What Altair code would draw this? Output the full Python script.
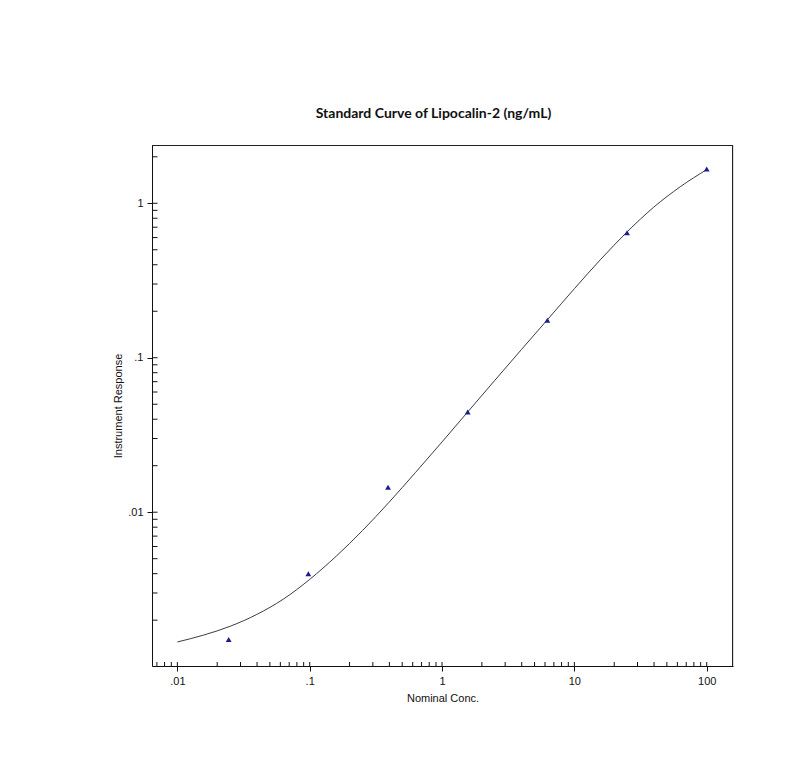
import altair as alt
import pandas as pd

# Standards (nominal concentration, ng/mL) and measured response
std_conc = [0.0244140625, 0.09765625, 0.390625, 1.5625, 6.25, 25, 100]
std_resp = [0.00150, 0.00399, 0.01452, 0.0446, 0.175, 0.645, 1.667]

# Fitted curve
curve_conc = [0.01, 0.01585, 0.02512, 0.03981, 0.0631, 0.1, 0.1585, 0.2512,
              0.3981, 0.631, 1, 1.585, 2.512, 3.981, 6.31, 10, 15.85, 25.12,
              39.81, 63.1, 100]
curve_resp = [0.001445, 0.001603, 0.001828, 0.002178, 0.002735, 0.003673,
              0.005188, 0.007621, 0.01161, 0.01811, 0.02851, 0.04519, 0.07161,
              0.1130, 0.1778, 0.2799, 0.4345, 0.6546, 0.9441, 1.279, 1.652]

x_major = [0.01, 0.1, 1, 10, 100]
x_major_labels = [".01", ".1", "1", "10", "100"]
y_major = [0.01, 0.1, 1]
y_major_labels = [".01", ".1", "1"]
x_ticks_all = [0.007, 0.008, 0.009,
               0.01, 0.02, 0.03, 0.04, 0.05, 0.06, 0.07, 0.08, 0.09,
               0.1, 0.2, 0.3, 0.4, 0.5, 0.6, 0.7, 0.8, 0.9,
               1, 2, 3, 4, 5, 6, 7, 8, 9,
               10, 20, 30, 40, 50, 60, 70, 80, 90,
               100]
y_ticks_all = [0.002, 0.003, 0.004, 0.005, 0.006, 0.007, 0.008, 0.009,
               0.01, 0.02, 0.03, 0.04, 0.05, 0.06, 0.07, 0.08, 0.09,
               0.1, 0.2, 0.3, 0.4, 0.5, 0.6, 0.7, 0.8, 0.9,
               1, 2]

x_domain = [0.00643, 158]
y_domain = [0.00101, 2.384]

W, H = 581, 521
FONT = "Liberation Sans"
INK = "#111"

def label_expr(values, labels):
    parts = " : ".join(f"datum.value == {v} ? '{l}'" for v, l in zip(values, labels))
    return parts + " : ''"

xscale = alt.Scale(type="log", domain=x_domain, nice=False)
yscale = alt.Scale(type="log", domain=y_domain, nice=False)

std_df = pd.DataFrame({"conc": std_conc, "resp": std_resp})
curve_df = pd.DataFrame({"conc": curve_conc, "resp": curve_resp})
xt_df = pd.DataFrame({"t": x_ticks_all})
yt_df = pd.DataFrame({"t": y_ticks_all})
frame_df = pd.DataFrame({"k": [0]})

x_axis = alt.Axis(values=x_major, labelExpr=label_expr(x_major, x_major_labels),
                  tickSize=5, tickColor=INK, labelPadding=4,
                  domain=True, domainColor=INK, grid=False,
                  labelFont=FONT, labelFontSize=11, labelColor=INK,
                  title="Nominal Conc.", titleFont=FONT, titleFontSize=11,
                  titleFontWeight="normal", titleColor=INK, titlePadding=6)
y_axis = alt.Axis(values=y_major, labelExpr=label_expr(y_major, y_major_labels),
                  tickSize=5, tickColor=INK, labelPadding=4,
                  domain=True, domainColor=INK, grid=False,
                  labelFont=FONT, labelFontSize=11, labelColor=INK,
                  title="Instrument Response", titleFont=FONT, titleFontSize=11,
                  titleFontWeight="normal", titleColor=INK, titlePadding=4)

curve = alt.Chart(curve_df).mark_line(color="#3b3b4f", strokeWidth=1, interpolate="monotone").encode(
    x=alt.X("conc:Q", scale=xscale, axis=x_axis),
    y=alt.Y("resp:Q", scale=yscale, axis=y_axis),
)

points = alt.Chart(std_df).mark_point(shape="triangle-up", filled=True, size=34,
                                      color="#1c1c8c", opacity=1).encode(
    x=alt.X("conc:Q", scale=xscale),
    y=alt.Y("resp:Q", scale=yscale),
)

x_inner = alt.Chart(xt_df).mark_rule(color=INK, strokeWidth=1).encode(
    x=alt.X("t:Q", scale=xscale),
    y=alt.value(H - 4),
    y2=alt.value(H),
)

y_inner = alt.Chart(yt_df).mark_rule(color=INK, strokeWidth=1).encode(
    y=alt.Y("t:Q", scale=yscale),
    x=alt.value(0),
    x2=alt.value(5.5),
)

# plot frame (top and right edges)
frame_top = alt.Chart(frame_df).mark_rule(color="#222", strokeWidth=1).encode(
    x=alt.value(0), x2=alt.value(W), y=alt.value(0.5),
)
frame_right = alt.Chart(frame_df).mark_rule(color="#222", strokeWidth=1).encode(
    x=alt.value(W - 0.5), y=alt.value(0), y2=alt.value(H),
)

chart = alt.layer(frame_top, frame_right, x_inner, y_inner, curve, points).properties(
    width=W, height=H,
    title=alt.TitleParams("Standard Curve of Lipocalin-2 (ng/mL)", font="Lato",
                          fontSize=14, fontWeight="bold", color=INK,
                          anchor="middle", dx=-9, offset=24),
    autosize=alt.AutoSizeParams(type="none"),
    padding={"left": 144, "top": 137, "right": 50, "bottom": 80},
).configure_view(strokeWidth=0).configure(background="white")

chart.save("out.html", embed_options={"renderer": "svg", "actions": False})
